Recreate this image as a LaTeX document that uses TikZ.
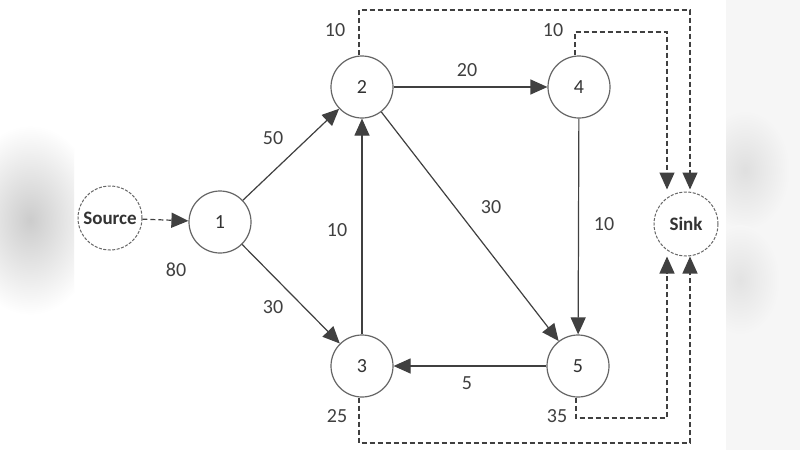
\documentclass[tikz,border=0pt]{standalone}
\usepackage{fontspec}
\setmainfont{Carlito}
\usetikzlibrary{positioning}
\usetikzlibrary{arrows.meta}

\begin{document}
\begin{tikzpicture}[x=1pt, y=-1pt,
    vertex/.style={circle, draw=black!60, line width=1.2pt, minimum size=62pt, inner sep=0pt,
      font=\fontsize{20}{24}\selectfont, text=black!80},
    terminal/.style={vertex, dash pattern=on 3pt off 1.5pt, line width=1pt, minimum size=64pt,
      font=\fontsize{19}{24}\selectfont\bfseries},
    edge/.style={draw=black!75, line width=1.2pt, -{Triangle[length=17pt, width=15pt]}},
    flow/.style={edge, dash pattern=on 5pt off 3pt},
    weight/.style={font=\fontsize{20}{24}\selectfont, text=black!75, inner sep=0pt}]
  \useasboundingbox (0,0) rectangle (800,450);
  % blurred background at the sides
  \fill[white] (0,0) rectangle (800,450);
  \begin{scope}
    \clip (0,0) rectangle (74,450);
    \shade[inner color=gray!40, outer color=white] (30,220) ellipse (70 and 95);
  \end{scope}
  \begin{scope}
    \clip (726,0) rectangle (800,450);
    \fill[gray!7] (726,0) rectangle (800,450);
    \shade[inner color=gray!25, outer color=gray!7] (745,170) ellipse (45 and 60);
    \shade[inner color=gray!22, outer color=gray!7] (740,280) ellipse (40 and 55);
  \end{scope}

  % nodes
  \node[terminal] (source) at (110,218) {Source};
  \node[vertex] (n1) at (220,222) {1};
  \node[vertex] (n2) at (362,87) {2};
  \node[vertex] (n3) at (362,366) {3};
  \node[vertex] (n4) at (579,87) {4};
  \node[vertex] (n5) at (578,366) {5};
  \node[terminal] (sink) at (686,224) {Sink};

  % arcs
  \draw[edge] (n1) -- (n2);
  \draw[edge] (n1) -- (n3);
  \draw[edge] (n3) -- (n2);
  \draw[edge] (n2) -- (n4);
  \draw[edge] (n2) -- (n5);
  \draw[edge] (n4) -- (n5);
  \draw[edge] (n5) -- (n3);

  % supply and demand
  \coordinate (inA) at ([xshift=-19pt, yshift=2pt]sink.north);
  \coordinate (inB) at ([xshift=4pt, yshift=2pt]sink.north);
  \coordinate (outA) at ([xshift=-19pt]sink.south);
  \coordinate (outB) at ([xshift=4pt]sink.south);
  \draw[flow] (source) -- (n1);
  \draw[flow] ([xshift=-3pt]n2.north) -- ([xshift=-3pt]n2.north |- 0,10) -| (inB);
  \draw[flow] ([xshift=-4pt]n4.north) -- ([xshift=-4pt]n4.north |- 0,32) -| (inA);
  \draw[flow] ([xshift=-2pt]n5.south) -- ([xshift=-2pt]n5.south |- 0,418) -| (outA);
  \draw[flow] ([xshift=-3pt]n3.south) -- ([xshift=-3pt]n3.south |- 0,443) -| (outB);

  % weights
  \node[weight] (w80) at (176,270) {80};
  \node[weight] (w12) at (273,138) {50};
  \node[weight] (w13) at (273,307) {30};
  \node[weight] (w32) at (337,230) {10};
  \node[weight] (w24) at (467,70) {20};
  \node[weight] (w25) at (491,207) {30};
  \node[weight] (w45) at (604,224) {10};
  \node[weight] (w53) at (467,383) {5};
  \node[weight] (d2) at (335,30) {10};
  \node[weight] (d4) at (553,30) {10};
  \node[weight] (d3) at (337,416) {25};
  \node[weight] (d5) at (557,416) {35};
\end{tikzpicture}
\end{document}
